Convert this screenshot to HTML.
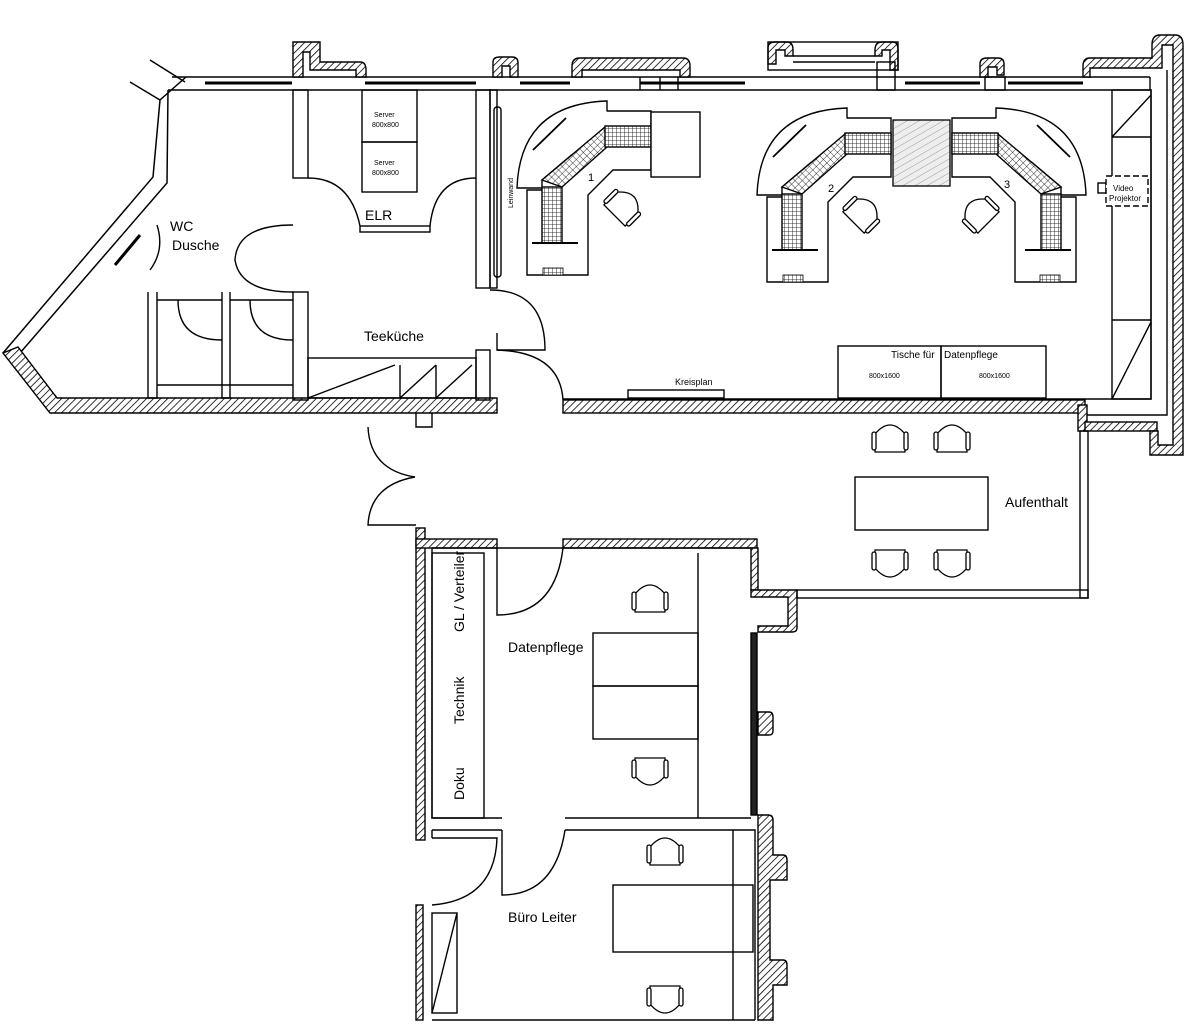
<!DOCTYPE html>
<html><head><meta charset="utf-8"><style>
html,body{margin:0;padding:0;background:#fff}
svg{display:block}
text{font-family:"Liberation Sans",Arial,sans-serif;fill:#000}
</style></head><body>
<svg width="1204" height="1034" viewBox="0 0 1204 1034" xmlns="http://www.w3.org/2000/svg">
<defs>
<pattern id="h" width="5" height="5" patternUnits="userSpaceOnUse" patternTransform="rotate(45)">
<rect width="5" height="5" fill="#fff"/><line x1="0" y1="0" x2="0" y2="5" stroke="#000" stroke-width="1.6"/>
</pattern>
<pattern id="g" width="4" height="4" patternUnits="userSpaceOnUse">
<rect width="4" height="4" fill="#fff"/><path d="M0 0H4M0 0V4" stroke="#000" stroke-width="0.8"/>
</pattern>
<pattern id="g2" width="5" height="5" patternUnits="userSpaceOnUse" patternTransform="rotate(45)">
<rect width="5" height="5" fill="#fff"/><path d="M0 0H5M0 0V5" stroke="#000" stroke-width="0.8"/>
</pattern>
<pattern id="lh" width="6" height="6" patternUnits="userSpaceOnUse" patternTransform="rotate(60)">
<rect width="6" height="6" fill="#eee"/><line x1="0" y1="0" x2="0" y2="6" stroke="#777" stroke-width="0.7"/>
</pattern>
<g id="chair" fill="#fff" stroke="#000" stroke-width="1.3">
<path d="M-15 -6 V12 H15 V-6"/>
<path d="M-15 -6 Q0 -24 15 -6"/>
<rect x="-18" y="-8" width="4" height="18" rx="2"/>
<rect x="14" y="-8" width="4" height="18" rx="2"/>
</g>
<g id="ws" fill="#fff" stroke="#000" stroke-width="1.4">
<path d="M517 188 Q520 104 607 101 V125 L542 180 V188 Z"/>
<path d="M607 111 H651 V170 H613 L588 195 V275 H527 V190 H542"/>
<path d="M542 180 L605 127 L607 147 L562 187 Z" fill="url(#g2)"/>
<rect x="542" y="187" width="20" height="56" fill="url(#g)"/>
<rect x="605" y="126" width="46" height="21" fill="url(#g)"/>
<line x1="532" y1="243" x2="578" y2="243" stroke-width="2"/>
<rect x="543" y="268" width="20" height="7" fill="url(#g)" stroke-width="0.8"/>
<line x1="533" y1="150" x2="566" y2="118" stroke-width="1.8"/>
</g>
</defs>

<g fill="none" stroke="#000" stroke-width="1.5">
<!-- top outer wall lines -->
<line x1="172" y1="77" x2="1150" y2="77"/>
<line x1="168" y1="90" x2="1112" y2="90"/>
<!-- glazing -->
<g stroke-width="3"><line x1="205" y1="83" x2="292" y2="83"/><line x1="365" y1="83" x2="476" y2="83"/><line x1="520" y1="83" x2="570" y2="83"/><line x1="640" y1="83" x2="745" y2="83"/><line x1="905" y1="83" x2="980" y2="83"/><line x1="1008" y1="83" x2="1083" y2="83"/></g>
<!-- left diagonal walls -->
<path d="M186 77 L160 100 L153 177 L3 353"/>
<path d="M168 90 L167 183 L20 353 L57 398"/>
<path d="M160 100 L130 82 M150 60 L185 82"/>
<line x1="140" y1="235" x2="115" y2="265" stroke-width="3"/>
</g>
<!-- hatched walls -->
<g fill="url(#h)" stroke="#000" stroke-width="1.4">
<polygon points="3,353 18,347 57,398 497,398 497,413 50,413"/>
<rect x="563" y="400" width="522" height="13"/>
<rect x="1078" y="405" width="9" height="26"/>
<rect x="1085" y="422" width="72" height="9"/>
<path d="M1150 431 V455 H1183 V45 Q1183 35 1175 35 H1160 Q1152 35 1152 45 V58 H1090 Q1083 58 1083 66 V77 H1090 V68 H1162 V45 H1173 V445 H1158 V431 Z"/>
<path d="M293 77 V42 H320 V62 H360 Q366 62 366 70 V77 H356 V70 H310 V52 H303 V77 Z"/>
<path d="M493 77 V62 Q493 57 500 57 H512 Q518 57 518 63 V77 H510 V66 H502 V77 Z"/>
<path d="M572 77 V66 Q572 58 580 58 H683 Q690 58 690 66 V77 H680 V70 H582 V77 Z"/>
<path d="M768 64 V48 Q768 42 775 42 H787 Q793 42 793 50 V56 H785 V50 H776 V64 Z"/>
<path d="M875 50 Q875 42 882 42 H893 Q898 42 898 50 V70 H890 V50 H882 V56 H875 Z"/>
<path d="M980 77 V64 Q980 58 987 58 H998 Q1004 58 1004 64 V75 H997 V67 H988 V77 Z"/>
<!-- lower rooms -->
<rect x="416" y="528" width="9" height="312"/>
<rect x="416" y="539" width="81" height="9"/>
<rect x="563" y="539" width="194" height="9"/>
<rect x="751" y="548" width="7" height="42"/>
<path d="M751 590 H797 V628 Q797 632 792 632 H758 V626 H788 V597 H751 Z"/>
<path d="M758 712 H769 Q773 712 773 717 V731 Q773 735 769 735 H758 Z"/>
<rect x="416" y="905" width="7" height="115"/>
<path d="M758 815 H768 Q773 815 773 820 V855 H783 Q787 855 787 860 V880 H770 V960 H783 Q787 960 787 965 V985 H773 V1020 H758 Z"/>
</g>
<g fill="none" stroke="#000" stroke-width="1.4">
<rect x="768" y="42" width="130" height="28"/>
<line x1="793" y1="56" x2="875" y2="56"/><line x1="793" y1="62" x2="875" y2="62"/>
<rect x="877" y="62" width="18" height="28"/>
<line x1="640" y1="77" x2="640" y2="90"/><line x1="660" y1="77" x2="660" y2="90"/><line x1="678" y1="77" x2="678" y2="90"/>
<rect x="985" y="77" width="20" height="13"/>
<line x1="1150" y1="77" x2="1150" y2="90"/>
<!-- main room inner -->
<path d="M1112 90 H1151 V399 H563"/>
<path d="M1167 70 V415 H1087"/>
<rect x="1112" y="90" width="39" height="309"/>
<path d="M1112 137 H1151 M1112 320 H1151 M1112 137 L1151 95 M1112 399 L1151 322"/>
<rect x="1098" y="183" width="8" height="10"/>
<rect x="1106" y="176" width="42" height="30" stroke-dasharray="6 3" fill="#fff"/>
<!-- left rooms -->
<rect x="293" y="90" width="15" height="88"/>
<rect x="293" y="292" width="15" height="108"/>
<rect x="476" y="90" width="14" height="198"/>
<rect x="476" y="350" width="14" height="50"/>
<rect x="490" y="90" width="7" height="198"/>
<rect x="362" y="90" width="55" height="52"/><rect x="362" y="142" width="55" height="50"/>
<rect x="360" y="226" width="70" height="6"/>
<path d="M308 178 Q350 178 360 226"/><path d="M476 178 Q435 178 430 226"/>
<path d="M293 225 Q237 225 235 260 Q240 292 293 292"/>
<path d="M148 292 V398 H157 V292 M222 292 V398 H230 V292 M157 385 H293 M157 300 H222 M230 300 H293"/>
<path d="M150 270 Q165 250 157 225"/>
<path d="M178 300 Q178 340 222 340 M250 300 Q250 340 293 340"/>
<rect x="308" y="358" width="168" height="40"/>
<path d="M308 398 L395 365 M400 365 V398 M400 398 L436 365 M436 365 V398 M436 398 L472 365"/>
<rect x="494" y="107" width="7" height="170" rx="3"/>
<!-- doors main -->
<path d="M490 290 Q545 290 545 350 H497 V333"/>
<path d="M497 350 Q560 352 563 400"/>
<path d="M416 413 V427 H432 V413"/>
<path d="M368 427 Q370 470 415 477 Q370 485 368 525 H416"/>
<!-- Aufenthalt -->
<rect x="1080" y="431" width="8" height="167"/>
<rect x="797" y="590" width="291" height="8"/>
<rect x="855" y="477" width="133" height="53"/>
<!-- Tische -->
<rect x="838" y="346" width="103" height="52"/><rect x="941" y="346" width="105" height="52"/>
<rect x="628" y="390" width="96" height="8"/>
<!-- Datenpflege -->
<path d="M432 548 H751 M432 548 V818 H502 M565 818 H751"/>
<rect x="432" y="553" width="52" height="265"/>
<path d="M497 548 V615 Q555 615 563 548"/>
<line x1="698" y1="553" x2="698" y2="818"/>
<rect x="593" y="633" width="105" height="53"/><rect x="593" y="686" width="105" height="53"/>
<rect x="751" y="633" width="6" height="182" fill="#222"/>
<!-- Büro -->
<path d="M432 830 H502 M565 830 H755 V1020 M432 1020 H755 M432 830 V838"/>
<path d="M432 838 H497 Q495 900 432 905"/>
<path d="M502 830 V895 Q555 895 565 830"/>
<rect x="432" y="913" width="25" height="100"/><line x1="432" y1="1013" x2="457" y2="913"/>
<line x1="733" y1="830" x2="733" y2="1020"/>
<rect x="613" y="885" width="140" height="67"/>
</g>
<!-- workstations -->
<use href="#ws"/>
<rect x="651" y="112" width="49" height="65" fill="#fff" stroke="#000" stroke-width="1.4"/>
<use href="#ws" transform="translate(240,7)"/>
<use href="#ws" transform="translate(1603,7) scale(-1,1)"/>
<rect x="893" y="120" width="57" height="66" fill="url(#lh)" stroke="#000" stroke-width="1.3"/>
<!-- chairs -->
<use href="#chair" transform="translate(623,207) rotate(45)"/>
<use href="#chair" transform="translate(862,214) rotate(45)"/>
<use href="#chair" transform="translate(980,214) rotate(-45)"/>
<use href="#chair" transform="translate(890,440)"/>
<use href="#chair" transform="translate(952,440)"/>
<use href="#chair" transform="translate(890,562) rotate(180)"/>
<use href="#chair" transform="translate(952,562) rotate(180)"/>
<use href="#chair" transform="translate(650,600)"/>
<use href="#chair" transform="translate(650,770) rotate(180)"/>
<use href="#chair" transform="translate(665,853)"/>
<use href="#chair" transform="translate(665,998) rotate(180)"/>
<!-- labels -->
<text x="170" y="231" font-size="14">WC</text>
<text x="172" y="250" font-size="14">Dusche</text>
<text x="365" y="220" font-size="14">ELR</text>
<text x="364" y="341" font-size="14">Teeküche</text>
<text x="374" y="117" font-size="7">Server</text><text x="372" y="127" font-size="7">800x800</text>
<text x="374" y="165" font-size="7">Server</text><text x="372" y="175" font-size="7">800x800</text>
<text transform="translate(513,208) rotate(-90)" font-size="7">Leinwand</text>
<text x="588" y="181" font-size="11">1</text>
<text x="828" y="192" font-size="11">2</text>
<text x="1004" y="188" font-size="11">3</text>
<text x="1113" y="191" font-size="8">Video</text><text x="1109" y="201" font-size="8">Projektor</text>
<text x="675" y="385" font-size="9">Kreisplan</text>
<text x="891" y="358" font-size="10">Tische für</text><text x="944" y="358" font-size="10">Datenpflege</text>
<text x="869" y="378" font-size="7">800x1600</text><text x="979" y="378" font-size="7">800x1600</text>
<text x="1005" y="507" font-size="14">Aufenthalt</text>
<text x="508" y="652" font-size="14">Datenpflege</text>
<text x="508" y="922" font-size="14">Büro Leiter</text>
<text transform="translate(464,632) rotate(-90)" font-size="14">GL / Verteiler</text>
<text transform="translate(464,724) rotate(-90)" font-size="14">Technik</text>
<text transform="translate(464,800) rotate(-90)" font-size="14">Doku</text>
</svg>
</body></html>
